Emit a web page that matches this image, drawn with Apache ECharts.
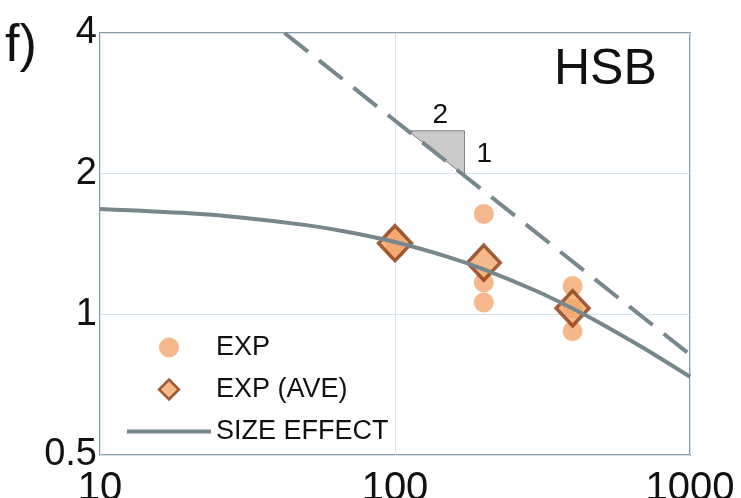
<!DOCTYPE html>
<html>
<head>
<meta charset="utf-8">
<script src="https://cdn.jsdelivr.net/npm/echarts@6/dist/echarts.min.js"></script>
<style>
  html, body { margin: 0; padding: 0; background: #fff; }
  #chart { width: 741px; height: 498px; }
</style>
</head>
<body>
<div id="chart"></div>
<script>
// Specimen size D (mm) and nominal strength ratio for the HSB series
const expSize = [100, 100, 100, 200, 200, 200, 400, 400, 400];
const expValue = [1.46, 1.42, 1.38, 1.64, 1.17, 1.06, 1.15, 1.03, 0.92];

const aveSize = [100, 200, 400];
const aveValue = [1.42, 1.29, 1.03];

// Size effect curve, read at a set of sizes
const curveSize = [10, 20, 30, 50, 70, 100, 150, 200, 300, 400, 500, 700, 1000];
const curveValue = [1.68, 1.645, 1.612, 1.552, 1.499, 1.428, 1.329, 1.248, 1.123, 1.029, 0.955, 0.845, 0.735];

// Asymptote with slope -1/2
const asymSize = [42.2, 1000];
const asymValue = [4, 0.82];

// Slope triangle (run 2 : rise 1)
const triSize = [110.7, 172, 172];
const triValue = [2.47, 2.47, 1.98];

const xTicks = [10, 100, 1000];
const yTicks = [0.5, 1, 2, 4];

const FONT = "'Liberation Sans', Arial, sans-serif";
const LINE_GREY = '#76878d';
const FRAME = '#899ba4';
const GRID_BLUE = '#d3e5f1';

const zip = (a, b) => a.map((v, i) => [v, b[i]]);

const chart = echarts.init(document.getElementById('chart'), null, { renderer: 'canvas' });

chart.setOption({
  animation: false,
  backgroundColor: '#fff',
  grid: {
    left: 100, right: 51, top: 33, bottom: 43,
    containLabel: false,
    outerBoundsMode: 'none',
    show: true, borderColor: FRAME, borderWidth: 2, backgroundColor: 'transparent'
  },
  xAxis: {
    type: 'log', logBase: 10,
    min: xTicks[0], max: xTicks[xTicks.length - 1],
    axisLine: { show: false },
    axisTick: { show: false },
    minorTick: { show: false },
    splitLine: { show: true, lineStyle: { color: GRID_BLUE, width: 1 } },
    axisLabel: {
      fontSize: 40, fontFamily: FONT, color: '#111', margin: 14,
      formatter: v => String(v)
    }
  },
  yAxis: {
    type: 'log', logBase: 2,
    min: yTicks[0], max: yTicks[yTicks.length - 1],
    axisLine: { show: false },
    axisTick: { show: false },
    splitLine: { show: true, lineStyle: { color: GRID_BLUE, width: 1 } },
    axisLabel: { fontSize: 38, fontFamily: FONT, color: '#111', margin: 3, formatter: v => String(v) }
  },
  legend: {
    orient: 'vertical',
    left: 122, top: 329,
    itemWidth: 84, itemHeight: 20, itemGap: 15,
    symbolKeepAspect: true,
    data: [
      { name: 'EXP', icon: 'circle' },
      { name: 'EXP (AVE)', icon: 'path://M10,0 L20,10 L10,20 L0,10 Z', itemStyle: { borderWidth: 2.5 } },
      { name: 'SIZE EFFECT', icon: 'path://M0,0 L84,0 L84,4 L0,4 Z' }
    ],
    textStyle: { fontSize: 27, fontFamily: FONT, color: '#111' }
  },
  graphic: [
    { type: 'text', left: 5, top: 21, style: { text: 'f)', font: '52px ' + FONT, fill: '#111' } },
    { type: 'text', left: 554, top: 45, style: { text: 'HSB', font: '50px ' + FONT, fill: '#111' } }
  ],
  series: [
    {
      name: 'EXP', type: 'scatter', z: 2,
      symbol: 'circle', symbolSize: 20,
      itemStyle: { color: '#f4b182', opacity: 0.92 },
      data: zip(expSize, expValue)
    },
    {
      name: 'EXP (AVE)', type: 'scatter', z: 3,
      symbol: 'diamond', symbolSize: [33, 35],
      itemStyle: { color: '#f2a76e', borderColor: '#8a3c14', borderWidth: 3.5 },
      data: zip(aveSize, aveValue)
    },
    {
      name: 'SIZE EFFECT', type: 'line', z: 5,
      symbol: 'none', smooth: 0.3,
      lineStyle: { color: LINE_GREY, width: 4 },
      itemStyle: { color: LINE_GREY },
      data: zip(curveSize, curveValue)
    },
    {
      name: 'asymptote', type: 'line', z: 5,
      symbol: 'none',
      lineStyle: { color: LINE_GREY, width: 4, type: [30, 14] },
      data: zip(asymSize, asymValue)
    },
    {
      name: 'slope', type: 'custom', z: 4,
      data: [0],
      renderItem: function (params, api) {
        const pts = triSize.map((s, i) => api.coord([s, triValue[i]]));
        const top = pts[0][1];
        const rightX = pts[1][0];
        return {
          type: 'group',
          children: [
            {
              type: 'polygon',
              shape: { points: pts },
              style: { fill: '#cacaca', stroke: '#7f7f7f', lineWidth: 1 }
            },
            {
              type: 'text',
              style: {
                text: '2', x: (pts[0][0] + rightX) / 2 + 4, y: top - 2,
                font: '28px ' + FONT, fill: '#111', align: 'center', verticalAlign: 'bottom'
              }
            },
            {
              type: 'text',
              style: {
                text: '1', x: rightX + 12, y: (top + pts[2][1]) / 2 + 1,
                font: '28px ' + FONT, fill: '#111', align: 'left', verticalAlign: 'middle'
              }
            }
          ]
        };
      }
    }
  ]
});
</script>
</body>
</html>
